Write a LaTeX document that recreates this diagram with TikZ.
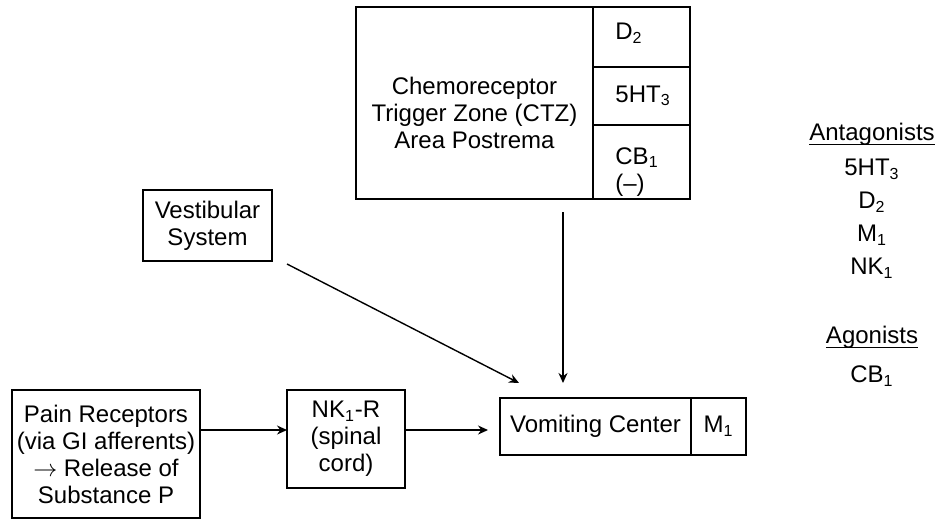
\documentclass[tikz,border=0pt]{standalone}
\usepackage{fontspec}
\setmainfont{Liberation Sans}
\usetikzlibrary{arrows.meta, positioning}

\newcommand{\ulword}[1]{\setbox0\hbox{#1}\rlap{\rule[-2.2pt]{\wd0}{0.6pt}}\box0}

\begin{document}
\begin{tikzpicture}[
  x=0.5pt, y=-0.5pt,
  node distance=0pt,
  font=\fontsize{12}{13.5}\selectfont,
  box/.style={rectangle, draw, line width=0.9pt, align=center,
              inner sep=0pt, outer sep=0pt},
  cell/.style={box, minimum width=48.5pt},
  lbl/.style={align=center, inner sep=0pt},
  legend/.style={lbl, font=\fontsize{12}{16.5}\selectfont},
  arrow/.style={-{Stealth[length=5pt, width=4.5pt]}, line width=0.7pt},
]
  \useasboundingbox (0,0) rectangle (935,519);

  % trigger zone and its receptor cells
  \node[box, minimum width=118.5pt, minimum height=96pt] (ctz) at (474.5,103) {};
  \node[lbl] (ctztext) at ([yshift=-5pt]ctz.center) {Chemoreceptor\\Trigger Zone (CTZ)\\Area Postrema};
  \node[cell, minimum height=30pt, anchor=north west] (d2) at (ctz.north east) {};
  \node[cell, minimum height=29pt, below=of d2] (ht3) {};
  \node[cell, minimum height=37pt, below=of ht3] (cb1) {};
  \node[lbl, anchor=west] (d2text)  at ([xshift=11pt, yshift=2pt]d2.west) {D\textsubscript{2}};
  \node[lbl, anchor=west] (ht3text) at ([xshift=11pt]ht3.west) {5HT\textsubscript{3}};
  \node[lbl, anchor=west, align=left] (cb1text) at ([xshift=11pt, yshift=-5pt]cb1.west) {CB\textsubscript{1}\\(--)};

  \node[box, minimum width=64.5pt, minimum height=35.5pt] (vest) at (207.5,225.5) {Vestibular\\System};
  \node[box, minimum width=94pt, minimum height=64pt] (pain) at (106,454) {Pain Receptors\\(via GI afferents)\\$\rightarrow$ Release of\\Substance P};
  \node[box, minimum width=59pt, minimum height=49pt] (nk1) at (346,439) {NK\textsubscript{1}-R\\(spinal\\cord)};
  \node[box, minimum width=95.5pt, minimum height=28.5pt] (vomit) at (595.5,426.5) {Vomiting Center};
  \node[box, minimum width=27.5pt, minimum height=28.5pt, anchor=west] (m1) at (vomit.east) {M\textsubscript{1}};

  % legend
  \node[legend] (antag) at (872,201) {\ulword{Antagonists}\\[1pt]5HT\textsubscript{3}\\D\textsubscript{2}\\M\textsubscript{1}\\NK\textsubscript{1}};
  \node[legend] (agon) at (872,356) {\ulword{Agonists}\\[3pt]CB\textsubscript{1}};

  % pathways
  \coordinate (lvl) at (0,430);
  \coordinate (ctzout) at ([xshift=-15pt]ctz.south east);
  \draw[arrow] (pain.east |- lvl) -- (nk1.west |- lvl);
  \draw[arrow, shorten >=6pt] (nk1.east |- lvl) -- (vomit.west |- lvl);
  \draw[arrow, shorten <=6.5pt, shorten >=7.5pt] (ctzout) -- (ctzout |- vomit.north);
  \draw[arrow] ([shift={(7.5pt,-1.5pt)}]vest.south east) -- ([shift={(9.5pt,7.5pt)}]vomit.north west);
\end{tikzpicture}
\end{document}
